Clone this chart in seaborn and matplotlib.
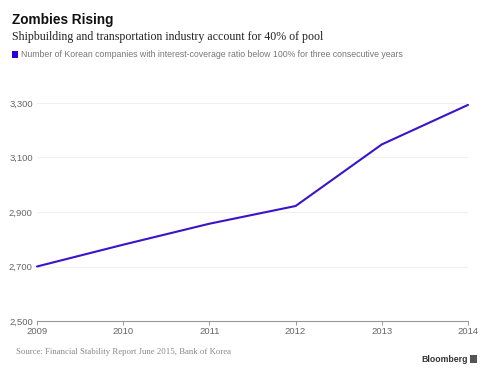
import matplotlib
matplotlib.use("Agg")
import matplotlib.pyplot as plt
import seaborn as sns
import pandas as pd
from matplotlib.patches import Rectangle

years = [2009, 2010, 2011, 2012, 2013, 2014]
zombies = [2700, 2780, 2857, 2922, 3148, 3293]
y_ticks = [2500, 2700, 2900, 3100, 3300]

title = "Zombies Rising"
subtitle = "Shipbuilding and transportation industry account for 40% of pool"
legend_label = "Number of Korean companies with interest-coverage ratio below 100% for three consecutive years"
source = "Source: Financial Stability Report June 2015, Bank of Korea"

df = pd.DataFrame({"year": years, "count": zombies})

sns.set_style("white")
plt.rcParams['font.family'] = ['Liberation Sans', 'DejaVu Sans']

W, H = 488, 375
fig = plt.figure(figsize=(W / 100, H / 100), dpi=100)
ax = fig.add_axes([37 / W, 1 - 321 / H, (468 - 37) / W, (321 - 103) / H])

color = "#3a14c9"
sns.lineplot(data=df, x="year", y="count", ax=ax, color=color, linewidth=1.5)
for l in ax.lines:
    l.set_clip_on(False)

ax.set_xlim(2009, 2014)
ax.set_ylim(2500, 3300)
ax.set_xticks(years)
ax.set_xticklabels([str(y) for y in years])
ax.set_yticks(y_ticks)
ax.set_yticklabels([f"{v:,}" for v in y_ticks])
ax.set_xlabel("")
ax.set_ylabel("")
for s in ["top", "right", "left"]:
    ax.spines[s].set_visible(False)
ax.spines["bottom"].set_color("#999999")
ax.spines["bottom"].set_linewidth(0.8)
ax.yaxis.grid(True, color="#f0f0f0", linewidth=0.8)
ax.set_axisbelow(True)
ax.tick_params(axis="x", length=3, width=0.7, color="#999999", labelsize=6.8,
               labelcolor="#666666", pad=1, direction="out", bottom=True)
ax.tick_params(axis="y", length=0, labelsize=6.8, labelcolor="#666666", pad=3)

fig.text(12 / W, 1 - 20 / H, title, fontsize=9.8, fontweight="bold",
         color="#111111", va="center", ha="left")
fig.text(12 / W, 1 - 37 / H, subtitle, fontsize=8.6, family=["Liberation Serif", "DejaVu Serif"],
         color="#222222", va="center", ha="left")
fig.patches.append(Rectangle((12 / W, 1 - 57.5 / H), 6 / W, 6 / H, transform=fig.transFigure,
                             facecolor="#2a00d6", edgecolor="none"))
fig.text(21 / W, 1 - 54.5 / H, legend_label, fontsize=6.3, color="#777777", va="center", ha="left")
fig.text(16 / W, 1 - 352 / H, source, fontsize=6.3, family=["Liberation Serif", "DejaVu Serif"],
         color="#888888", va="center", ha="left")
fig.text(421 / W, 1 - 359 / H, "Bloomberg", fontsize=6.3, fontweight="bold",
         color="#333333", va="center", ha="left")
fig.patches.append(Rectangle((470 / W, 1 - 363 / H), 7 / W, 8 / H, transform=fig.transFigure,
                             facecolor="#555555", edgecolor="none"))

fig.savefig("out.png", dpi=100, facecolor="white")
